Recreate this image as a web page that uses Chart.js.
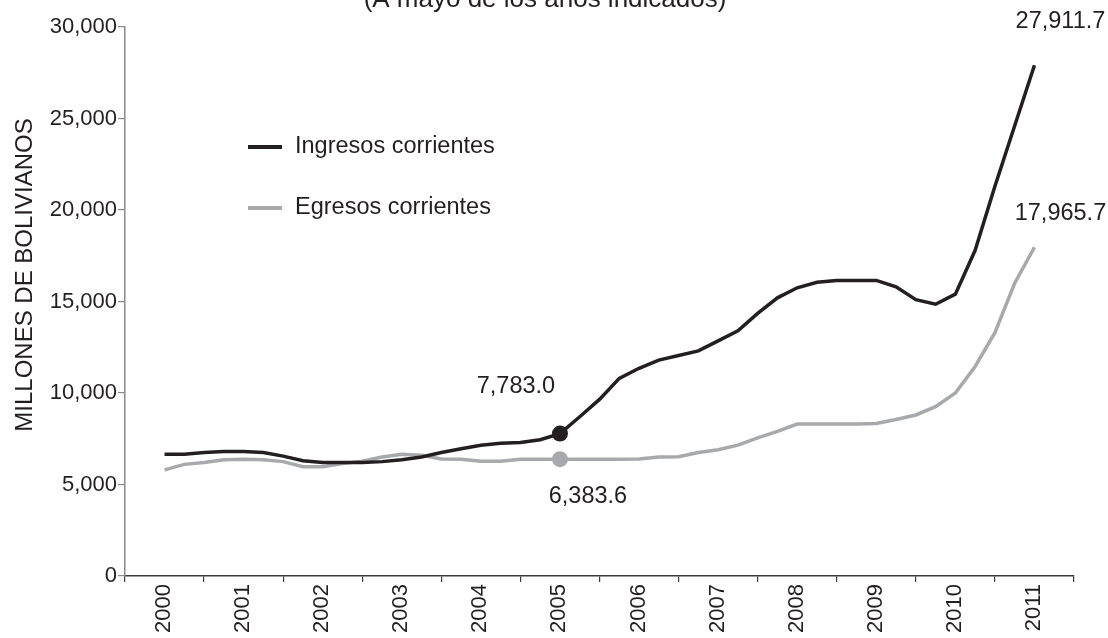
<!DOCTYPE html>
<html>
<head>
<meta charset="utf-8">
<script src="https://cdn.jsdelivr.net/npm/chart.js@4.4.1/dist/chart.umd.min.js"></script>
<style>
    html, body { margin: 0; padding: 0; background: #fff; overflow: hidden; }
    #wrap { width: 1108px; height: 638px; }
</style>
</head>
<body>
<div id="wrap"><canvas id="grafico" width="1108" height="638"></canvas></div>
<script>
// datos trimestrales, de mayo 2000 a mayo 2011
var periodos = [
    "May-00", "Ago-00", "Nov-00", "Feb-01", "May-01", "Ago-01", "Nov-01", "Feb-02",
    "May-02", "Ago-02", "Nov-02", "Feb-03", "May-03", "Ago-03", "Nov-03", "Feb-04",
    "May-04", "Ago-04", "Nov-04", "Feb-05", "May-05", "Ago-05", "Nov-05", "Feb-06",
    "May-06", "Ago-06", "Nov-06", "Feb-07", "May-07", "Ago-07", "Nov-07", "Feb-08",
    "May-08", "Ago-08", "Nov-08", "Feb-09", "May-09", "Ago-09", "Nov-09", "Feb-10",
    "May-10", "Ago-10", "Nov-10", "Feb-11", "May-11"
];
var ingresos = [
    6650, 6650, 6750, 6800, 6800, 6750, 6550, 6300,
    6200, 6200, 6200, 6250, 6350, 6500, 6750, 6950,
    7150, 7250, 7300, 7450, 7783.0, 8700, 9650, 10800,
    11350, 11800, 12050, 12300, 12850, 13400, 14350, 15200,
    15750, 16050, 16150, 16150, 16150, 15800, 15100, 14850,
    15400, 17800, 21300, 24600, 27911.7
];
var egresos = [
    5800, 6100, 6200, 6350, 6380, 6350, 6250, 5970,
    5970, 6150, 6270, 6500, 6650, 6600, 6400, 6380,
    6270, 6270, 6383, 6383, 6383.6, 6383, 6383, 6383,
    6400, 6500, 6520, 6750, 6900, 7150, 7550, 7900,
    8300, 8310, 8310, 8310, 8330, 8550, 8800, 9250,
    10000, 11450, 13300, 16000, 17965.7
];
var anios = [2000, 2001, 2002, 2003, 2004, 2005, 2006, 2007, 2008, 2009, 2010, 2011];
var ticksY = [0, 5000, 10000, 15000, 20000, 25000, 30000];

var negro = "#231f20";
var gris = "#a7a9ac";
var fuente = "'Liberation Sans', Arial, sans-serif";

// posicion en el eje: mayo de cada anio cae a mitad del anio
function puntos(valores) {
    return valores.map((v, i) => ({ x: anios[0] + 0.5 + i / 4, y: v }));
}
var idxMay05 = periodos.indexOf("May-05");
var idxFin = periodos.length - 1;

var anotaciones = {
    id: "anotaciones",
    afterDraw(chart) {
        var ctx = chart.ctx;
        ctx.save();
        ctx.fillStyle = negro;

        // titulo (cortado arriba)
        ctx.font = "26px " + fuente;
        ctx.textAlign = "center";
        ctx.textBaseline = "alphabetic";
        ctx.fillText("(A mayo de los años indicados)", 545, 7);

        // titulo eje y
        ctx.save();
        ctx.translate(25, 275);
        ctx.rotate(-Math.PI / 2);
        ctx.font = "24px " + fuente;
        ctx.textBaseline = "middle";
        ctx.fillText("MILLONES DE BOLIVIANOS", 0, 0);
        ctx.restore();

        // leyenda
        var series = [
            { txt: "Ingresos corrientes", color: negro, y: 147 },
            { txt: "Egresos corrientes", color: gris, y: 208 }
        ];
        ctx.font = "23.5px " + fuente;
        ctx.textAlign = "left";
        series.forEach(s => {
            ctx.strokeStyle = s.color;
            ctx.lineWidth = 4;
            ctx.beginPath();
            ctx.moveTo(248, s.y);
            ctx.lineTo(282, s.y);
            ctx.stroke();
            ctx.fillStyle = negro;
            ctx.fillText(s.txt, 295, s.y + 6);
        });

        // etiquetas de valores
        var m0 = chart.getDatasetMeta(0).data;
        var m1 = chart.getDatasetMeta(1).data;
        var fmt = v => v.toLocaleString("en-US", { minimumFractionDigits: 1, maximumFractionDigits: 1 });
        ctx.textAlign = "center";
        ctx.textBaseline = "alphabetic";
        ctx.fillStyle = negro;
        ctx.fillText(fmt(ingresos[idxMay05]), m0[idxMay05].x - 44, m0[idxMay05].y - 41);
        ctx.fillText(fmt(egresos[idxMay05]), m1[idxMay05].x + 28, m1[idxMay05].y + 44);
        ctx.fillText(fmt(ingresos[idxFin]), m0[idxFin].x + 26, m0[idxFin].y - 37);
        ctx.fillText(fmt(egresos[idxFin]), m1[idxFin].x + 26, m1[idxFin].y - 27);
        ctx.restore();
    }
};

var radio = ctx => ctx.dataIndex === idxMay05 ? 8 : 0;

new Chart(document.getElementById("grafico"), {
    type: "line",
    data: {
        datasets: [{
            label: "Ingresos corrientes",
            data: puntos(ingresos),
            borderColor: negro,
            backgroundColor: negro,
            borderWidth: 3.5,
            pointRadius: radio,
            pointBorderWidth: 0,
            tension: 0
        }, {
            label: "Egresos corrientes",
            data: puntos(egresos),
            borderColor: gris,
            backgroundColor: gris,
            borderWidth: 3.5,
            pointRadius: radio,
            pointBorderWidth: 0,
            tension: 0
        }]
    },
    options: {
        responsive: false,
        animation: false,
        events: [],
        layout: { padding: { top: 27, right: 34, left: 0, bottom: 0 } },
        plugins: {
            legend: { display: false },
            tooltip: { enabled: false }
        },
        scales: {
            x: {
                type: "linear",
                min: anios[0],
                max: anios[anios.length - 1] + 1,
                afterBuildTicks: s => {
                    s.ticks = anios.concat([anios[anios.length - 1] + 1]).map(v => ({ value: v }));
                },
                afterFit: s => { s.height = 62; },
                grid: { drawOnChartArea: false, tickLength: 6, color: "#3a3a3a", lineWidth: 1.2 },
                border: { color: "#3a3a3a", width: 1.5 },
                ticks: {
                    autoSkip: false,
                    minRotation: 90,
                    maxRotation: 90,
                    labelOffset: 39,
                    padding: 2,
                    color: negro,
                    font: { family: fuente, size: 22 },
                    callback: v => anios.includes(v) ? String(v) : ""
                }
            },
            y: {
                min: 0,
                max: 30000,
                afterBuildTicks: s => {
                    s.ticks = ticksY.map(v => ({ value: v }));
                },
                afterFit: s => { s.width = 125; },
                grid: { drawOnChartArea: false, tickLength: 7, color: "#8a8a8a", lineWidth: 1.2 },
                border: { color: "#8a8a8a", width: 1.5 },
                ticks: {
                    padding: 1,
                    color: negro,
                    font: { family: fuente, size: 22 },
                    callback: v => v.toLocaleString("en-US")
                }
            }
        }
    },
    plugins: [anotaciones]
});
</script>
</body>
</html>
